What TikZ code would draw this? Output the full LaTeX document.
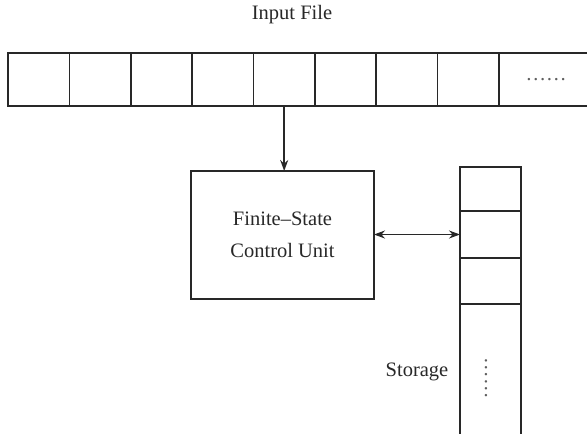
\documentclass[tikz,border=0pt]{standalone}
\usepackage{fontspec}
\setmainfont{Liberation Serif}
\usetikzlibrary{arrows.meta}
\definecolor{ink}{RGB}{40,40,40}
\begin{document}
\begin{tikzpicture}[x=1pt,y=-1pt,
  line width=1.6pt, draw=ink, text=ink,
  every node/.style={font=\fontsize{20.5}{32}\selectfont},
  cell/.style={draw=ink, rectangle, inner sep=0pt, outer sep=0pt,
    minimum width=61.375pt, minimum height=53pt},
  slot/.style={draw=ink, rectangle, inner sep=0pt, outer sep=0pt,
    minimum width=61pt},
  unit/.style={draw=ink, rectangle, inner sep=0pt, outer sep=0pt,
    minimum width=183pt, minimum height=128pt, align=center},
  tip/.style={-{Stealth[length=11pt,width=8pt]}},
  dtip/.style={{Stealth[length=11pt,width=8pt]}-{Stealth[length=11pt,width=8pt]}},
  dots/.style={text=ink!75, font=\fontsize{20.5}{24}\selectfont, inner sep=0pt}
]
\useasboundingbox (0,0) rectangle (587,434);

% input tape
\node at (292,15) (title) {Input File};
\foreach \i in {1,...,8} {
  \node[cell] (c\i) at ({8+(\i-0.5)*61.375},79.5) {};
}
\coordinate (tapeTop) at (587,53);
\coordinate (tapeBot) at (587,106);
\draw (c8.north east) -- (tapeTop);
\draw (c8.south east) -- (tapeBot);
\node[dots] (more) at (546,80) {……};

% control unit
\node[unit] (fsc) at (282.5,235) {Finite–State\\Control Unit};
\draw[tip] (c5.south) -- (c5.south |- fsc.north);

% storage column
\node[slot, minimum height=44pt] (s1) at (490.5,189) {};
\node[slot, minimum height=47pt] (s2) at (490.5,234.5) {};
\node[slot, minimum height=46pt] (s3) at (490.5,281) {};
\coordinate (botL) at (460,434);
\coordinate (botR) at (521,434);
\draw (s3.south west) -- (botL);
\draw (s3.south east) -- (botR);
\node (label) at (417,372) {Storage};
\node[dots, rotate=-90] (vdots) at (486,378) {……};

\draw[dtip] (fsc.east |- s2.west) -- (s2.west);
\end{tikzpicture}
\end{document}
